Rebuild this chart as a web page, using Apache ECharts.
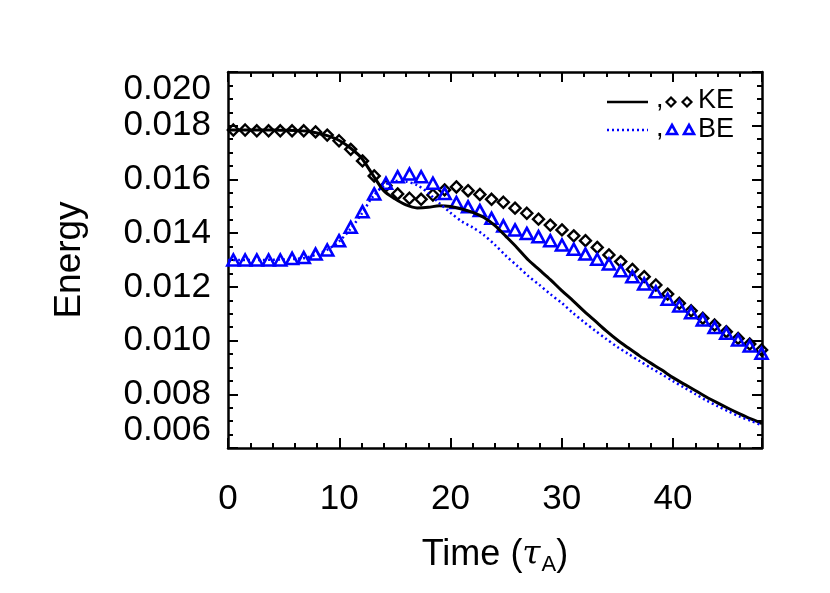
<!DOCTYPE html>
<html>
<head>
<meta charset="utf-8">
<script src="https://cdn.jsdelivr.net/npm/echarts@6/dist/echarts.min.js"></script>
<style>
  html, body { margin: 0; padding: 0; background: #fff; }
  #main { width: 830px; height: 593px; }
</style>
</head>
<body>
<div id="main"></div>
<script>
// time samples for the two curves
var lineTime = [0,1,2,3,4,5,6,7,8,9,10,11,12,13,14,15,16,17,18,19,20,21,22,23,24,25,26,27,28,29,30,31,32,33,34,35,36,37,38,39,40,41,42,43,44,45,46,47,48];
var keLine = [0.01784,0.01784,0.01784,0.01784,0.01784,0.01783,0.01782,0.01780,0.01773,0.01762,0.01745,0.01717,0.01680,0.01618,0.01558,0.01528,0.01505,0.01494,0.01496,0.01502,0.01499,0.01490,0.01477,0.01458,0.01428,0.01387,0.01345,0.01300,0.01263,0.01226,0.01186,0.01149,0.01110,0.01073,0.01036,0.01002,0.00972,0.00943,0.00916,0.00890,0.00862,0.00838,0.00814,0.00790,0.00768,0.00747,0.00727,0.00708,0.00691];
var beLine = [0.01300,0.01300,0.01300,0.01300,0.01301,0.01302,0.01304,0.01308,0.01322,0.01340,0.01370,0.01415,0.01471,0.01535,0.01576,0.01594,0.01592,0.01579,0.01549,0.01512,0.01476,0.01444,0.01421,0.01393,0.01356,0.01315,0.01278,0.01240,0.01207,0.01172,0.01140,0.01103,0.01069,0.01037,0.01006,0.00976,0.00950,0.00924,0.00898,0.00874,0.00849,0.00825,0.00801,0.00777,0.00756,0.00736,0.00717,0.00701,0.00684];

// times of the symbol samples
var symTime = [0.48,1.54,2.59,3.65,4.70,5.76,6.81,7.87,8.92,9.98,11.03,12.09,13.14,14.20,15.25,16.31,17.36,18.42,19.47,20.53,21.58,22.64,23.69,24.75,25.80,26.86,27.91,28.97,30.02,31.08,32.13,33.19,34.24,35.30,36.35,37.41,38.46,39.52,40.57,41.63,42.68,43.74,44.79,45.85,46.90,47.96];
var keSym = [0.01784,0.01784,0.01781,0.01781,0.01781,0.01781,0.01781,0.01777,0.01765,0.01744,0.01712,0.01669,0.01613,0.01576,0.01546,0.01530,0.01526,0.01542,0.01561,0.01572,0.01558,0.01544,0.01526,0.01515,0.01493,0.01474,0.01452,0.01430,0.01412,0.01390,0.01372,0.01347,0.01319,0.01294,0.01265,0.01238,0.01207,0.01173,0.01139,0.01111,0.01083,0.01058,0.01033,0.01008,0.00987,0.00965];
var beSym = [0.01300,0.01300,0.01300,0.01300,0.01300,0.01306,0.01309,0.01322,0.01337,0.01372,0.01422,0.01480,0.01546,0.01586,0.01610,0.01620,0.01610,0.01586,0.01548,0.01514,0.01498,0.01484,0.01455,0.01427,0.01412,0.01399,0.01387,0.01372,0.01356,0.01340,0.01322,0.01303,0.01285,0.01260,0.01238,0.01211,0.01182,0.01154,0.01129,0.01104,0.01077,0.01049,0.01027,0.01002,0.00980,0.00953];

var xTicks = [0, 10, 20, 30, 40];
var yTicks = ['0.006','0.008','0.010','0.012','0.014','0.016','0.018','0.020'];

function pairs(xs, ys){
	var out = [];
	for(var i = 0; i < ys.length; i++){
		out.push([xs[i], ys[i]]);
	}
	return out;
}

var font = 'Liberation Sans, Arial, Helvetica, sans-serif';
var chart = echarts.init(document.getElementById('main'));

// box frame: same settings on both sides, ticks pointing in
var frameX = {
	type:'value', min:0, max:48, interval:10,
	axisLine:{show:true, onZero:false, lineStyle:{color:'#000', width:2.5}},
	axisTick:{show:true, inside:true, length:10, lineStyle:{color:'#000', width:2}},
	minorTick:{show:true, splitNumber:5, length:5, lineStyle:{color:'#000', width:2}},
	splitLine:{show:false}
};
var frameY = {
	type:'value', min:0.006, max:0.020, interval:0.002,
	axisLine:{show:true, onZero:false, lineStyle:{color:'#000', width:2.5}},
	axisTick:{show:true, inside:true, length:10, lineStyle:{color:'#000', width:2}},
	minorTick:{show:true, splitNumber:4, length:5, lineStyle:{color:'#000', width:2}},
	splitLine:{show:false}
};

chart.setOption({
	animation:false,
	backgroundColor:'#fff',
	grid:{left:228, right:68, top:72, bottom:145},
	xAxis:[
		Object.assign({}, frameX, {
			position:'bottom',
			name:'{a|Time (}{t|τ}{s|A}{a|)}',
			nameLocation:'middle',
			nameGap:86,
			nameTextStyle:{
				rich:{
					a:{fontFamily:font, fontSize:36, color:'#000'},
					t:{fontFamily:'DejaVu Serif, serif', fontStyle:'italic', fontSize:33, color:'#000'},
					s:{fontFamily:font, fontSize:22, color:'#000', padding:[20,0,0,1]}
				}
			},
			axisLabel:{
				show:true, margin:34, fontFamily:font, fontSize:35, color:'#000',
				showMaxLabel:false,
				formatter:function(v){ return xTicks.indexOf(v) >= 0 ? String(v) : ''; }
			}
		}),
		Object.assign({}, frameX, {position:'top', axisLabel:{show:false}})
	],
	yAxis:[
		Object.assign({}, frameY, {
			position:'left',
			name:'Energy',
			nameLocation:'middle',
			nameGap:140,
			nameTextStyle:{fontFamily:font, fontSize:37, color:'#000'},
			axisLabel:{
				show:true, margin:17, fontFamily:font, fontSize:35, color:'#000',
				verticalAlignMinLabel:'bottom',
				verticalAlignMaxLabel:'top',
				formatter:function(v){
					var s = v.toFixed(3);
					return yTicks.indexOf(s) >= 0 ? s : '';
				}
			}
		}),
		Object.assign({}, frameY, {position:'right', axisLabel:{show:false}})
	],
	series:[
		{
			name:'KE', type:'line', xAxisIndex:0, yAxisIndex:0,
			data:pairs(lineTime, keLine), showSymbol:false, smooth:0.3,
			lineStyle:{color:'#000', width:3}
		},
		{
			name:'BE', type:'line', xAxisIndex:0, yAxisIndex:0,
			data:pairs(lineTime, beLine), showSymbol:false, smooth:0.3,
			lineStyle:{color:'#0000ff', width:2.5, type:[2,3]}
		},
		{
			name:'KE sym', type:'scatter', xAxisIndex:0, yAxisIndex:0,
			data:pairs(symTime, keSym),
			symbol:'path://M0,-1L1,0L0,1L-1,0Z', symbolSize:[11,11],
			itemStyle:{color:'rgba(0,0,0,0)', borderColor:'#000', borderWidth:2.4, opacity:1}
		},
		{
			name:'BE sym', type:'scatter', xAxisIndex:0, yAxisIndex:0,
			data:pairs(symTime, beSym),
			symbol:'triangle', symbolSize:[12,11],
			itemStyle:{color:'rgba(0,0,0,0)', borderColor:'#0000ff', borderWidth:2.6, opacity:1}
		}
	],
	graphic:[
		{type:'line', shape:{x1:607, y1:102, x2:648, y2:102}, style:{stroke:'#000', lineWidth:2.5}},
		{type:'text', left:656, top:86, style:{text:',', font:'27px ' + font, fill:'#000'}},
		{type:'polygon', shape:{points:[[671,97.5],[675.5,102],[671,106.5],[666.5,102]]}, style:{fill:'none', stroke:'#000', lineWidth:2.2}},
		{type:'polygon', shape:{points:[[687,97.5],[691.5,102],[687,106.5],[682.5,102]]}, style:{fill:'none', stroke:'#000', lineWidth:2.2}},
		{type:'text', left:698, top:87, style:{text:'KE', font:'27px ' + font, fill:'#000'}},
		{type:'line', shape:{x1:607, y1:130, x2:648, y2:130}, style:{stroke:'#0000ff', lineWidth:2.5, lineDash:[2,3]}},
		{type:'text', left:656, top:115, style:{text:',', font:'27px ' + font, fill:'#000'}},
		{type:'polygon', shape:{points:[[672,125],[677,134],[667,134]]}, style:{fill:'none', stroke:'#0000ff', lineWidth:2.6}},
		{type:'polygon', shape:{points:[[689,125],[694,134],[684,134]]}, style:{fill:'none', stroke:'#0000ff', lineWidth:2.6}},
		{type:'text', left:698, top:116, style:{text:'BE', font:'27px ' + font, fill:'#000'}}
	]
});
</script>
</body>
</html>
